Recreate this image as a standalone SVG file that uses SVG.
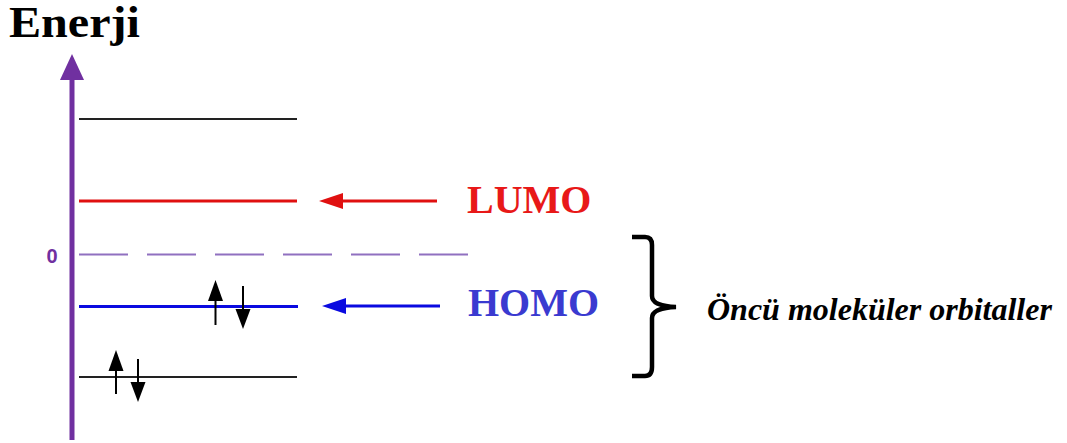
<svg xmlns="http://www.w3.org/2000/svg" width="1067" height="443" viewBox="0 0 1067 443">
<style>
.serif{font-family:"Liberation Serif","Times New Roman",serif;font-weight:bold}
.spin{stroke:#000;stroke-width:2}
</style>
<rect width="1067" height="443" fill="#fff"/>
<g id="title"><text class="serif" x="9" y="37" font-size="44" fill="#000" textLength="131" lengthAdjust="spacingAndGlyphs">Enerji</text></g>
<g id="axis">
<line x1="72" y1="75" x2="72" y2="440" stroke="#7030a0" stroke-width="5"/>
<polygon points="72,54 60,80 84,80" fill="#7030a0"/>
<text x="52" y="263" font-family="'Liberation Sans',Arial,sans-serif" font-weight="bold" font-size="20" fill="#7030a0" text-anchor="middle">0</text>
</g>
<g id="level-top"><line x1="79" y1="119" x2="297" y2="119" stroke="#222" stroke-width="2"/></g>
<g id="level-lumo"><line x1="79" y1="201" x2="297" y2="201" stroke="#e01010" stroke-width="3"/></g>
<g id="level-zero"><line x1="79" y1="254.5" x2="468" y2="254.5" stroke="#9070c0" stroke-width="2" stroke-dasharray="49 19"/></g>
<g id="level-homo"><line x1="79" y1="306.5" x2="298" y2="306.5" stroke="#0a0ae0" stroke-width="3"/></g>
<g id="level-bottom"><line x1="79" y1="377" x2="297" y2="377" stroke="#222" stroke-width="2"/></g>
<g id="spins">
<line class="spin" x1="215.5" y1="325" x2="215.5" y2="292"/>
<polygon points="215.5,280 208,301 223,301"/>
<line class="spin" x1="243" y1="286" x2="243" y2="318"/>
<polygon points="243,329 235.5,309 250.5,309"/>
<line class="spin" x1="116" y1="394" x2="116" y2="362"/>
<polygon points="116,350 108.5,371 123.5,371"/>
<line class="spin" x1="138" y1="359" x2="138" y2="391"/>
<polygon points="138,402 130.5,382 145.5,382"/>
</g>
<g id="connectors">
<line x1="437" y1="201" x2="335" y2="201" stroke="#e01010" stroke-width="3"/>
<polygon points="319,201 343,193 343,209" fill="#e01010"/>
<line x1="440" y1="306" x2="338" y2="306" stroke="#0a0ae0" stroke-width="3"/>
<polygon points="322,306 346,298 346,314" fill="#0a0ae0"/>
</g>
<g id="lumo-label"><text class="serif" x="467" y="213" font-size="40" fill="#e81818">LUMO</text></g>
<g id="homo-label"><text class="serif" x="468" y="316" font-size="40" fill="#3a3ad0">HOMO</text></g>
<g id="brace">
<path d="M632,237 L645,237 Q652,237 652,245 L652,296 Q652,306 676,307 Q652,308 652,318 L652,367 Q652,376 645,376 L632,376" fill="none" stroke="#000" stroke-width="4.5"/>
</g>
<g id="brace-label"><text class="serif" x="707" y="320" font-size="32" font-style="italic" fill="#000">Öncü moleküler orbitaller</text></g>
</svg>
